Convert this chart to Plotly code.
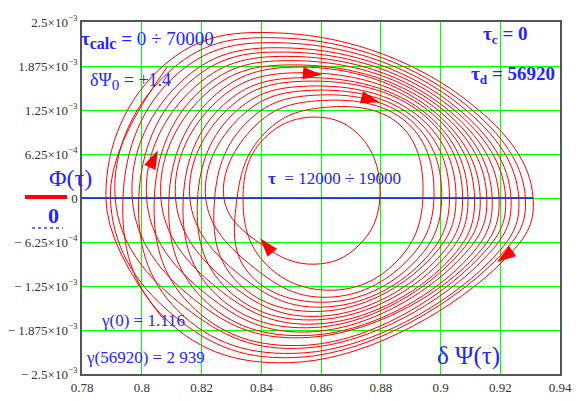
import plotly.graph_objects as go

# Phase trajectory δΨ(τ) – Φ(τ). Each row is one turn of the orbit, sampled at
# its left, upper-left, top, upper-right, right, lower-right, bottom and
# lower-left points (Φ in units of 1e-3), listed in time order.
TURNS_DPSI = [
    [0.7880, 0.8078, 0.8479, 0.9099, 0.9310, 0.9206, 0.8530, 0.8078],
    [0.7937, 0.8121, 0.8494, 0.9068, 0.9262, 0.9160, 0.8543, 0.8121],
    [0.7990, 0.8161, 0.8509, 0.9040, 0.9218, 0.9117, 0.8555, 0.8161],
    [0.8042, 0.8200, 0.8523, 0.9012, 0.9173, 0.9075, 0.8567, 0.8200],
    [0.8091, 0.8237, 0.8536, 0.8986, 0.9133, 0.9036, 0.8578, 0.8237],
    [0.8139, 0.8273, 0.8549, 0.8960, 0.9092, 0.8997, 0.8589, 0.8273],
    [0.8187, 0.8310, 0.8562, 0.8935, 0.9052, 0.8957, 0.8600, 0.8310],
    [0.8244, 0.8353, 0.8577, 0.8904, 0.9004, 0.8911, 0.8613, 0.8353],
    [0.8319, 0.8409, 0.8597, 0.8864, 0.8941, 0.8851, 0.8630, 0.8409],
    [0.8339, 0.8404, 0.8580, 0.8737, 0.8797, 0.8727, 0.8580, 0.8404],
    [0.8275, 0.8376, 0.8585, 0.8888, 0.8978, 0.8886, 0.8620, 0.8376],
    [0.8214, 0.8330, 0.8569, 0.8920, 0.9030, 0.8936, 0.8606, 0.8330],
    [0.8161, 0.8290, 0.8555, 0.8949, 0.9074, 0.8979, 0.8594, 0.8290],
    [0.8113, 0.8253, 0.8542, 0.8974, 0.9114, 0.9018, 0.8583, 0.8253],
    [0.8064, 0.8217, 0.8529, 0.9000, 0.9155, 0.9057, 0.8572, 0.8217],
    [0.8016, 0.8181, 0.8516, 0.9026, 0.9196, 0.9096, 0.8561, 0.8181],
    [0.7968, 0.8144, 0.8503, 0.9052, 0.9236, 0.9135, 0.8550, 0.8144],
    [0.7911, 0.8101, 0.8487, 0.9083, 0.9284, 0.9181, 0.8537, 0.8101],
]
TURNS_PHI_E3 = [
    [0.00, 1.90, 2.34, 1.35, 0.00, -0.91, -2.33, -1.71],
    [0.00, 1.77, 2.20, 1.31, 0.00, -0.92, -2.20, -1.60],
    [0.00, 1.65, 2.07, 1.27, 0.00, -0.90, -2.09, -1.51],
    [0.00, 1.54, 1.95, 1.24, 0.00, -0.93, -1.95, -1.41],
    [0.00, 1.43, 1.86, 1.20, 0.00, -0.91, -1.84, -1.32],
    [0.00, 1.32, 1.71, 1.17, 0.00, -0.92, -1.73, -1.24],
    [0.00, 1.21, 1.59, 1.13, 0.00, -0.90, -1.61, -1.15],
    [0.00, 1.08, 1.46, 1.09, 0.00, -0.92, -1.48, -1.04],
    [0.00, 0.91, 1.28, 1.04, 0.00, -0.91, -1.31, -0.91],
    [0.00, 0.82, 1.15, 0.85, 0.00, -0.67, -0.94, -0.67],
    [0.00, 1.01, 1.38, 1.07, 0.00, -0.90, -1.41, -0.99],
    [0.00, 1.15, 1.53, 1.11, 0.00, -0.92, -1.55, -1.10],
    [0.00, 1.27, 1.66, 1.16, 0.00, -0.91, -1.68, -1.20],
    [0.00, 1.38, 1.78, 1.19, 0.00, -0.93, -1.79, -1.28],
    [0.00, 1.49, 1.89, 1.22, 0.00, -0.90, -1.90, -1.37],
    [0.00, 1.59, 2.01, 1.25, 0.00, -0.92, -1.98, -1.46],
    [0.00, 1.70, 2.13, 1.29, 0.00, -0.91, -2.13, -1.55],
    [0.00, 1.83, 2.27, 1.33, 0.00, -0.90, -2.26, -1.65],
]
# where the orbit is picked up and where it is left
START_DPSI, START_PHI_E3 = 0.8078, -1.75
END_DPSI = [0.7895, 0.8085]
END_PHI_E3 = [0.00, 1.86]

# Direction arrows placed along the orbit
ARROW_DPSI = [0.8054, 0.8396, 0.8603, 0.8797, 0.9189]
ARROW_PHI_E3 = [0.68, -0.57, 1.75, 1.36, -0.91]
ARROW_ANGLE = [25, -40, 95, 105, 235]

X_TICKS = [0.78, 0.80, 0.82, 0.84, 0.86, 0.88, 0.90, 0.92, 0.94]
X_TICK_TEXT = ["0.78", "0.8", "0.82", "0.84", "0.86", "0.88", "0.9", "0.92", "0.94"]
Y_TICKS = [2.5e-3, 1.875e-3, 1.25e-3, 6.25e-4, 0, -6.25e-4, -1.25e-3, -1.875e-3, -2.5e-3]
Y_TICK_TEXT = [
    "2.5×10<sup>−3</sup>", "1.875×10<sup>−3</sup>", "1.25×10<sup>−3</sup>",
    "6.25×10<sup>−4</sup>", "0", "− 6.25×10<sup>−4</sup>", "− 1.25×10<sup>−3</sup>",
    "− 1.875×10<sup>−3</sup>", "− 2.5×10<sup>−3</sup>",
]

E3 = 1e-3
dpsi = [START_DPSI] + [v for row in TURNS_DPSI for v in row] + END_DPSI
phi = [v * E3 for v in [START_PHI_E3] + [v for row in TURNS_PHI_E3 for v in row] + END_PHI_E3]

SERIF = "Liberation Serif"
BLUE = "#2424ff"
RED = "#ff0000"

fig = go.Figure()

# the "0" reference trace over the δΨ range
fig.add_trace(go.Scatter(
    x=[X_TICKS[0], max(dpsi)], y=[0, 0], mode="lines",
    line=dict(color="#0000ff", width=1.3), hoverinfo="skip", showlegend=False,
))

fig.add_trace(go.Scatter(
    x=dpsi, y=phi, mode="lines",
    line=dict(color=RED, width=1, shape="spline", smoothing=1.2),
    hoverinfo="skip", showlegend=False,
))

fig.add_trace(go.Scatter(
    x=ARROW_DPSI, y=[v * E3 for v in ARROW_PHI_E3], mode="markers",
    marker=dict(symbol="arrow", size=20, color=RED, angle=ARROW_ANGLE,
                line=dict(width=0)),
    hoverinfo="skip", showlegend=False,
))

axis_common = dict(
    showgrid=True, gridcolor="#00ff00", gridwidth=1, zeroline=False,
    showline=True, linecolor="#555555", linewidth=1.5, mirror=True,
    automargin=False,
    tickfont=dict(family=SERIF, size=13, color="#333333"),
)
fig.update_xaxes(range=[0.78, 0.94], tickvals=X_TICKS, ticktext=X_TICK_TEXT,
                 ticks="outside", ticklen=1, tickcolor="rgba(0,0,0,0)", **axis_common)
fig.update_yaxes(range=[-2.5e-3, 2.5e-3], tickvals=Y_TICKS, ticktext=Y_TICK_TEXT,
                 ticks="", **axis_common)


def note(x, y, text, size=18, xanchor="left", xshift=0):
    fig.add_annotation(x=x, y=y, text=text, showarrow=False, xanchor=xanchor,
                       xshift=xshift, yanchor="middle",
                       font=dict(family=SERIF, size=size, color=BLUE))


note(0.7801, 2.24e-3,
     "<b>τ<sub><span style='font-size:16px'>calc</span></sub> = </b>0 ÷ 70000", 19,
     xshift=-3)
note(0.7820, 1.66e-3,
     "δΨ<sub><span style='font-size:15px'>0</span></sub> = +1.4", 18)
note(0.9299, 2.31e-3, "<b>τ<sub>c</sub> = 0</b>", 19, "right")
note(0.9390, 1.75e-3, "<b>τ<sub>d</sub> = 56920</b>", 19, "right")
note(0.8416, 0.284e-3, "<b>τ</b>  = 12000 ÷ 19000", 17)
note(0.7857, -1.74e-3, "γ(0) = 1.116", 17)
note(0.7807, -2.26e-3, "γ(56920) = 2 939", 17)
note(0.8982, -2.24e-3, "δ Ψ(τ)", 25)

# legend block on the left: Φ(τ) with its red line, 0 with its dotted blue line
fig.add_annotation(x=-0.0722, y=0.557, xref="paper", yref="paper", text="Φ(τ)",
                   showarrow=False, font=dict(family=SERIF, size=24, color=BLUE))
fig.add_annotation(x=-0.0753, y=0.449, xref="paper", yref="paper", text="<b>0</b>",
                   showarrow=False, font=dict(family=SERIF, size=22, color=BLUE))
fig.add_shape(type="line", xref="paper", yref="paper", x0=-0.1192, x1=-0.0314,
              y0=0.503, y1=0.503, line=dict(color=RED, width=4))
fig.add_shape(type="line", xref="paper", yref="paper", x0=-0.1046, x1=-0.0397,
              y0=0.415, y1=0.415, line=dict(color="#7070ff", width=2, dash="dot"))

fig.update_layout(
    width=584, height=401,
    margin=dict(l=82, r=24, t=22, b=27),
    paper_bgcolor="white", plot_bgcolor="white",
    showlegend=False,
)

fig.write_html("out.html")
